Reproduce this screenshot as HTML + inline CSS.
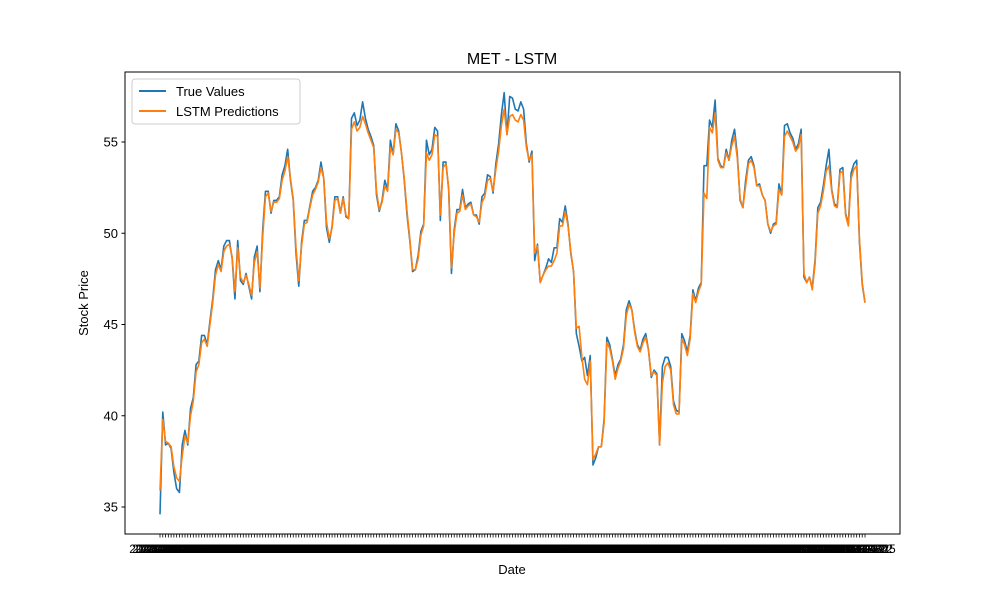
<!DOCTYPE html>
<html><head><meta charset="utf-8"><style>
body{margin:0;background:#fff}
svg{display:block;font-family:"Liberation Sans","DejaVu Sans",sans-serif}
</style></head><body>
<svg id="chart" width="1000" height="600">
<rect width="1000" height="600" fill="#fff"/>
<text x="512" y="64" font-size="16" text-anchor="middle">MET - LSTM</text>
<g id="plot"></g>
<rect x="125" y="72" width="775" height="462" fill="none" stroke="#000" stroke-width="1"/>
<text x="512" y="574" font-size="13" text-anchor="middle">Date</text>
<text transform="translate(88,303) rotate(-90)" font-size="13" text-anchor="middle">Stock Price</text>
<g>
<rect x="132" y="79" width="168" height="45" rx="3" fill="#fff" stroke="#ccc"/>
<g><line x1="139" y1="91" x2="166" y2="91" stroke="#1f77b4" stroke-width="2"/><text x="176" y="96" font-size="13">True Values</text></g>
<g><line x1="139" y1="111" x2="166" y2="111" stroke="#ff7f0e" stroke-width="2"/><text x="176" y="116" font-size="13">LSTM Predictions</text></g>
</g>
</svg>
<script>
const trueValues=[34.6,40.2,38.4,38.5,38.2,36.9,36.0,35.8,38.4,39.2,38.4,40.4,41.0,42.8,43.0,44.4,44.4,43.9,45.2,46.4,48.0,48.5,48.0,49.3,49.6,49.6,48.6,46.4,49.6,47.4,47.2,47.8,47.1,46.4,48.7,49.3,46.8,50.2,52.3,52.3,51.1,51.8,51.8,52.0,53.2,53.7,54.6,52.9,51.8,48.9,47.1,49.5,50.7,50.7,51.5,52.3,52.5,52.9,53.9,53.0,50.3,49.5,50.4,52.0,52.0,51.1,52.0,50.9,50.8,56.3,56.6,55.9,56.2,57.2,56.3,55.7,55.3,54.8,52.1,51.2,51.8,52.9,52.4,55.1,54.3,56.0,55.6,54.4,52.9,51.0,49.6,47.9,48.0,48.8,50.1,50.5,55.1,54.3,54.6,55.8,55.6,50.7,53.9,53.9,52.4,47.8,50.2,51.3,51.3,52.4,51.4,51.6,51.7,51.0,51.0,50.5,52.0,52.2,53.2,53.1,52.2,53.8,54.9,56.5,57.7,55.4,57.5,57.4,56.8,56.7,57.2,56.8,54.9,53.9,54.5,48.5,49.4,47.3,47.7,48.1,48.6,48.4,49.2,49.2,50.8,50.6,51.5,50.5,48.9,47.9,44.5,43.8,43.0,43.2,42.2,43.3,37.3,37.7,38.3,38.3,39.8,44.3,43.9,43.1,42.2,42.8,43.1,43.9,45.8,46.3,45.8,44.7,43.9,43.6,44.2,44.5,43.6,42.1,42.5,42.3,38.4,42.7,43.2,43.2,42.7,40.8,40.3,40.2,44.5,44.1,43.5,44.4,46.9,46.3,47.0,47.3,53.7,53.7,56.2,55.8,57.3,54.1,53.7,53.6,54.6,54.0,55.1,55.7,54.3,51.8,51.4,52.9,54.0,54.2,53.7,52.6,52.7,52.1,51.8,50.5,50.0,50.5,50.6,52.7,52.1,55.9,56.0,55.5,55.2,54.6,54.9,55.7,47.6,47.3,47.6,47.0,48.5,51.4,51.7,52.6,53.7,54.6,52.4,51.6,51.5,53.5,53.6,51.1,50.5,53.3,53.8,54.0,49.5,47.2,46.2];
const predValues=[35.9,39.8,38.6,38.5,38.3,37.2,36.6,36.4,37.8,38.9,38.5,40.0,40.8,42.4,42.8,44.0,44.2,43.8,45.0,46.2,47.7,48.3,47.9,49.0,49.3,49.4,48.7,46.8,49.2,47.6,47.3,47.7,47.2,46.6,48.4,49.0,47.0,49.8,52.0,52.2,51.2,51.7,51.7,51.9,52.9,53.4,54.2,53.0,51.9,49.2,47.4,49.3,50.5,50.6,51.4,52.1,52.4,52.8,53.6,53.0,50.6,49.7,50.3,51.8,51.9,51.1,51.9,51.0,50.8,55.7,56.1,55.6,55.8,56.4,56.0,55.5,55.1,54.7,52.3,51.3,51.7,52.6,52.3,54.7,54.3,55.7,55.5,54.4,53.0,51.2,49.7,48.0,48.0,48.6,49.9,50.4,54.4,54.0,54.3,55.4,55.3,51.0,53.6,53.8,52.5,48.1,50.0,51.1,51.2,52.1,51.3,51.5,51.6,51.0,50.9,50.6,51.7,52.0,52.9,53.0,52.3,53.5,54.5,55.9,56.8,55.4,56.4,56.5,56.2,56.1,56.5,56.2,54.7,54.0,54.3,48.9,49.3,47.3,47.7,48.0,48.2,48.2,48.5,48.9,50.4,50.4,51.2,50.4,49.0,47.9,44.8,44.9,43.2,42.0,41.7,43.0,37.6,37.9,38.3,38.3,39.6,44.0,43.7,43.0,42.0,42.6,43.0,43.7,45.5,46.1,45.8,44.6,43.8,43.5,44.0,44.3,43.6,42.2,42.4,42.2,38.4,41.8,42.7,42.9,42.5,40.6,40.1,40.1,44.2,43.9,43.3,44.2,46.7,46.2,46.8,47.2,52.2,51.9,55.8,55.5,56.6,54.0,53.6,53.6,54.4,54.0,54.8,55.3,54.1,51.9,51.4,52.6,53.8,54.0,53.6,52.6,52.6,52.1,51.8,50.5,50.1,50.4,50.5,52.4,52.1,55.3,55.6,55.3,55.0,54.5,54.7,55.4,47.8,47.3,47.6,46.9,48.3,51.1,51.5,52.3,53.4,53.7,52.3,51.5,51.4,53.3,53.4,51.0,50.4,53.0,53.5,53.7,49.7,47.3,46.2];
const yTicks=[35,40,45,50,55];
const startDate="2023-01-03";

const NS="http://www.w3.org/2000/svg";
const plot=document.getElementById('plot');
const n=trueValues.length;
function xScale(i){return 160+i*(705/(n-1));}
function yScale(v){return 507-(v-35)*18.25;}
function mk(tag,attrs){const e=document.createElementNS(NS,tag);for(const k in attrs)e.setAttribute(k,attrs[k]);return e;}

yTicks.forEach(t=>{
  const g=mk('g',{});
  
  
  g.appendChild(mk('line',{x1:121.5,x2:125,y1:yScale(t),y2:yScale(t),stroke:'#000'}));
  const tx=mk('text',{x:118,y:yScale(t)+4.5,'font-size':13,'text-anchor':'end'});
  tx.textContent=t;g.appendChild(tx);plot.appendChild(g);
});

let d=new Date(startDate+"T00:00:00Z");
const xg=mk('g',{});


for(let i=0;i<n;i++){
  while(d.getUTCDay()==0||d.getUTCDay()==6)d.setUTCDate(d.getUTCDate()+1);
  const x=xScale(i);
  xg.appendChild(mk('line',{x1:x,x2:x,y1:534,y2:537.5,stroke:'#000','stroke-width':0.8}));
  const tx=mk('text',{x:x,y:553,'font-size':12,'text-anchor':'middle'});
  tx.textContent=d.toISOString().slice(0,10);
  xg.appendChild(tx);
  d.setUTCDate(d.getUTCDate()+1);
}
plot.appendChild(xg);

function line(vals,color,name){
  const p=mk('polyline',{fill:'none',stroke:color,'stroke-width':1.6,'stroke-linejoin':'round',
    points:vals.map((v,i)=>xScale(i)+','+yScale(v)).join(' ')});
  
  
  plot.appendChild(p);
}
line(trueValues,'#1f77b4','true-values-line');
line(predValues,'#ff7f0e','lstm-predictions-line');
</script>
</body></html>
